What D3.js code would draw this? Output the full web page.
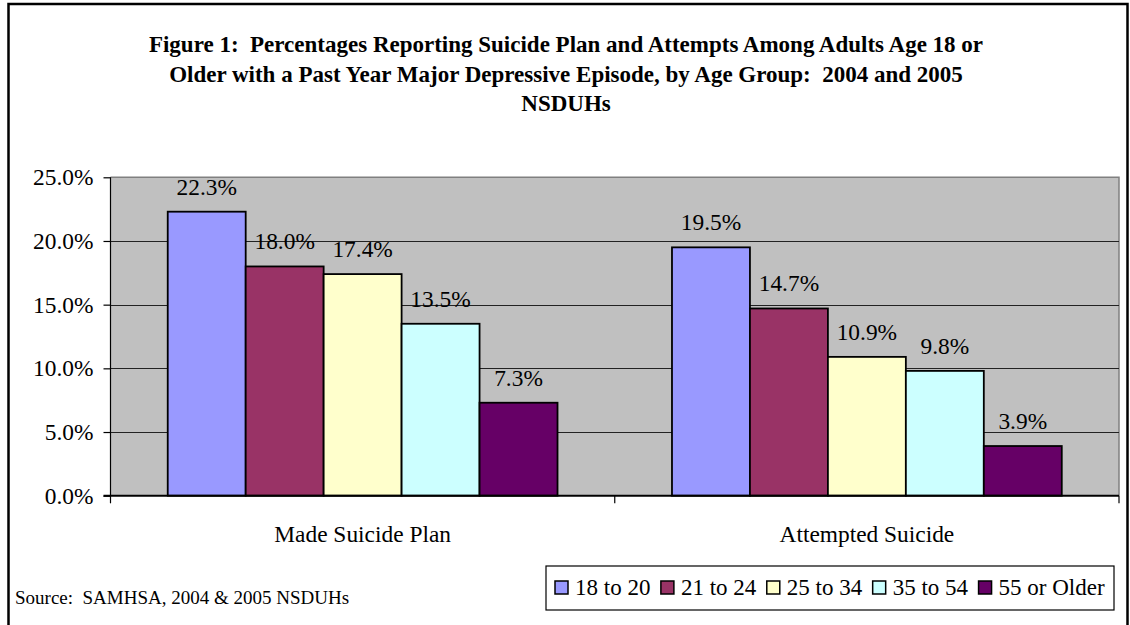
<!DOCTYPE html>
<html>
<head>
<meta charset="utf-8">
<script src="https://cdn.jsdelivr.net/npm/d3@7"></script>
<style>
  html, body { margin: 0; padding: 0; background: #fff; }
  svg { display: block; }
  text { font-family: "Liberation Serif", "Times New Roman", serif; fill: #000; white-space: pre; }
</style>
</head>
<body>
<svg id="chart" width="1130" height="625"></svg>
<script>
const titleLines = [
  "Figure 1:  Percentages Reporting Suicide Plan and Attempts Among Adults Age 18 or",
  "Older with a Past Year Major Depressive Episode, by Age Group:  2004 and 2005",
  "NSDUHs"
];
const categories = ["Made Suicide Plan", "Attempted Suicide"];
const seriesNames = ["18 to 20", "21 to 24", "25 to 34", "35 to 54", "55 or Older"];
const seriesColors = ["#9999FF", "#993366", "#FFFFCC", "#CCFFFF", "#660066"];
const madePlan = [22.3, 18.0, 17.4, 13.5, 7.3];
const attempted = [19.5, 14.7, 10.9, 9.8, 3.9];
const yTicks = [0, 5, 10, 15, 20, 25];
const sourceText = "Source:  SAMHSA, 2004 & 2005 NSDUHs";

const valuesByCategory = [madePlan, attempted];

const svg = d3.select("#chart");
const FS = 23.4;

// outer chart border
svg.append("path")
  .attr("d", "M8.5,640 L8.5,4 L1127.5,4 L1127.5,640")
  .attr("fill", "none").attr("stroke", "#000").attr("stroke-width", 2.5);

// title
const titleBaselines = [52, 81.5, 111];
svg.append("g").selectAll("text").data(titleLines).join("text")
  .attr("x", 566).attr("y", (d, i) => titleBaselines[i])
  .attr("text-anchor", "middle")
  .attr("font-weight", "bold")
  .attr("font-size", 23)
  .text(d => d);

const L = 110.5, R = 1119, T = 177.3, B = 495.7;

const y = d3.scaleLinear().domain([0, 25]).range([B, T]);
const x0 = d3.scaleBand().domain(categories).range([L, R]).padding(0);
const groupPad = x0.step() * 0.1135;
const x1 = d3.scaleBand().domain(seriesNames).range([groupPad, x0.step() - groupPad]).padding(0);

// plot background
svg.append("rect").attr("x", L).attr("y", T).attr("width", R - L).attr("height", B - T)
  .attr("fill", "#C0C0C0");
// plot border top/right gray
svg.append("path").attr("d", `M${L},${T} L${R},${T} L${R},${B}`)
  .attr("fill", "none").attr("stroke", "#808080").attr("stroke-width", 1.5);

// gridlines
svg.append("g").selectAll("line").data(yTicks.filter(t => t > 0 && t < 25)).join("line")
  .attr("x1", L).attr("x2", R)
  .attr("y1", d => Math.round(y(d)) + 0.5).attr("y2", d => Math.round(y(d)) + 0.5)
  .attr("stroke", "#222").attr("stroke-width", 1);

// bars
const groups = svg.append("g").selectAll("g").data(categories).join("g")
  .attr("transform", d => `translate(${x0(d)},0)`);

groups.selectAll("rect")
  .data((c, ci) => valuesByCategory[ci].map((v, si) => ({ v, s: seriesNames[si], si })))
  .join("rect")
  .attr("x", d => x1(d.s))
  .attr("y", d => y(d.v))
  .attr("width", x1.bandwidth())
  .attr("height", d => B - y(d.v))
  .attr("fill", d => seriesColors[d.si])
  .attr("stroke", "#000").attr("stroke-width", 1.8);

groups.selectAll("text.lbl")
  .data((c, ci) => valuesByCategory[ci].map((v, si) => ({ v, s: seriesNames[si], si })))
  .join("text").attr("class", "lbl")
  .attr("x", d => x1(d.s) + x1.bandwidth() / 2)
  .attr("y", d => y(d.v) - 17)
  .attr("text-anchor", "middle")
  .attr("font-size", FS)
  .text(d => d.v.toFixed(1) + "%");

// y axis
const yAxis = d3.axisLeft(y).tickValues(yTicks).tickFormat(d => d.toFixed(1) + "%").tickSize(7).tickPadding(10);
const gy = svg.append("g").attr("transform", `translate(${L},0)`).call(yAxis);
gy.select(".domain").attr("stroke", "#000").attr("stroke-width", 1.2).attr("d", `M0,${T}V${B}`);
gy.selectAll(".tick line").attr("stroke", "#000").attr("stroke-width", 1.2);
gy.selectAll(".tick text").attr("font-size", FS).attr("font-family", "Liberation Serif, Times New Roman, serif").attr("fill", "#000");

// x axis
const gx = svg.append("g").attr("transform", `translate(0,${B})`);
gx.append("line").attr("x1", L - 7).attr("x2", R).attr("y1", 0).attr("y2", 0)
  .attr("stroke", "#000").attr("stroke-width", 2);
const bounds = [L, x0(categories[1]), R];
gx.selectAll("line.tk").data(bounds).join("line").attr("class", "tk")
  .attr("x1", d => d).attr("x2", d => d).attr("y1", 0).attr("y2", 7.6)
  .attr("stroke", "#000").attr("stroke-width", 1.2);
gx.selectAll("text").data(categories).join("text")
  .attr("x", d => x0(d) + x0.bandwidth() / 2)
  .attr("y", 541.7 - B)
  .attr("text-anchor", "middle")
  .attr("font-size", FS)
  .text(d => d);

// source
svg.append("text").attr("x", 15).attr("y", 604).attr("font-size", 19).text(sourceText);

// legend
const lg = svg.append("g");
lg.append("rect").attr("x", 546).attr("y", 566).attr("width", 568).attr("height", 44)
  .attr("fill", "#fff").attr("stroke", "#000").attr("stroke-width", 1.2);
const LFS = 23;
let cx = 555;
seriesNames.forEach((name, i) => {
  lg.append("rect").attr("x", cx).attr("y", 581).attr("width", 13).attr("height", 13)
    .attr("fill", seriesColors[i]).attr("stroke", "#000").attr("stroke-width", 1.5);
  const t = lg.append("text").attr("x", cx + 20).attr("y", 595).attr("font-size", LFS).text(name);
  const w = t.node().getComputedTextLength();
  cx = cx + 20 + w + 10.5;
});
</script>
</body>
</html>
